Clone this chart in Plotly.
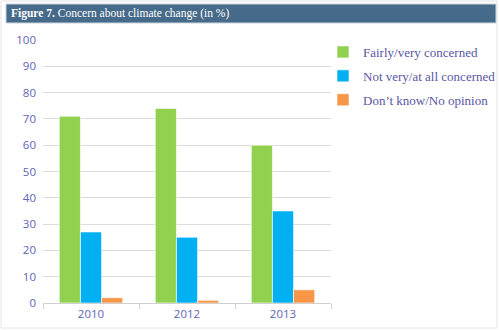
import plotly.graph_objects as go

# Survey years and share of respondents per answer (in %)
years = ["2010", "2012", "2013"]
fairly_very = [71, 74, 60]
not_very = [27, 25, 35]
dont_know = [2, 1, 5]

series_names = ["Fairly/very concerned", "Not very/at all concerned", "Don’t know/No opinion"]
series_colors = ["#92d050", "#00b0f0", "#f79646"]
series_values = [fairly_very, not_very, dont_know]

W, H = 499, 330
L, R, T, B = 43, 168, 40, 27
pw, ph = W - L - R, H - T - B


def px_x(x):
    return (x - L) / pw


def px_y(y):
    return (H - B - y) / ph


fig = go.Figure()
for i, (name, vals, col) in enumerate(zip(series_names, series_values, series_colors)):
    fig.add_trace(go.Bar(
        x=years, y=vals, name=name, legendgroup=f"g{i}",
        marker=dict(color=col, line=dict(color="rgba(255,255,255,0.6)", width=1)),
    ))

label_blue = "#6262b6"

fig.update_layout(
    width=W, height=H,
    margin=dict(l=L, r=R, t=T, b=B, autoexpand=False),
    paper_bgcolor="white", plot_bgcolor="white",
    barmode="group", bargap=0.34, bargroupgap=0,
    showlegend=True,
    legend=dict(
        x=px_x(323), y=px_y(37), xanchor="left", yanchor="top",
        font=dict(family="Liberation Serif", size=13, color="#5a56a6"),
        tracegroupgap=4, itemwidth=30, bgcolor="rgba(0,0,0,0)",
    ),
    xaxis=dict(
        type="category", showgrid=False, showline=True, linecolor="#d0d0d0", linewidth=1,
        ticks="outside", tickson="boundaries", ticklen=5, tickcolor="#d0d0d0",
        tickfont=dict(family="Open Sans", size=11.5, color=label_blue),
    ),
    yaxis=dict(
        range=[0, 100], dtick=10, showgrid=True, gridcolor="#dcdcdc", gridwidth=1.3,
        zeroline=False, showline=False, ticks="", ticklabelstandoff=6,
        tickfont=dict(family="Open Sans", size=11.5, color=label_blue),
    ),
    shapes=[
        # outer frame
        dict(type="rect", xref="paper", yref="paper",
             x0=px_x(1), x1=px_x(497), y0=px_y(328), y1=px_y(1),
             line=dict(color="#e4e4e4", width=1), fillcolor="rgba(0,0,0,0)"),
        # title band
        dict(type="rect", xref="paper", yref="paper",
             x0=px_x(6), x1=px_x(496), y0=px_y(23), y1=px_y(4),
             line=dict(color="#c8d3dc", width=1), fillcolor="#466a89"),
    ],
    annotations=[
        dict(xref="paper", yref="paper", x=px_x(9), y=px_y(13.5),
             xanchor="left", yanchor="middle", showarrow=False,
             text="<b>Figure 7.</b> Concern about climate change (in %)",
             font=dict(family="Liberation Serif", size=11.5, color="white")),
    ],
)

fig.write_html("out.html")
